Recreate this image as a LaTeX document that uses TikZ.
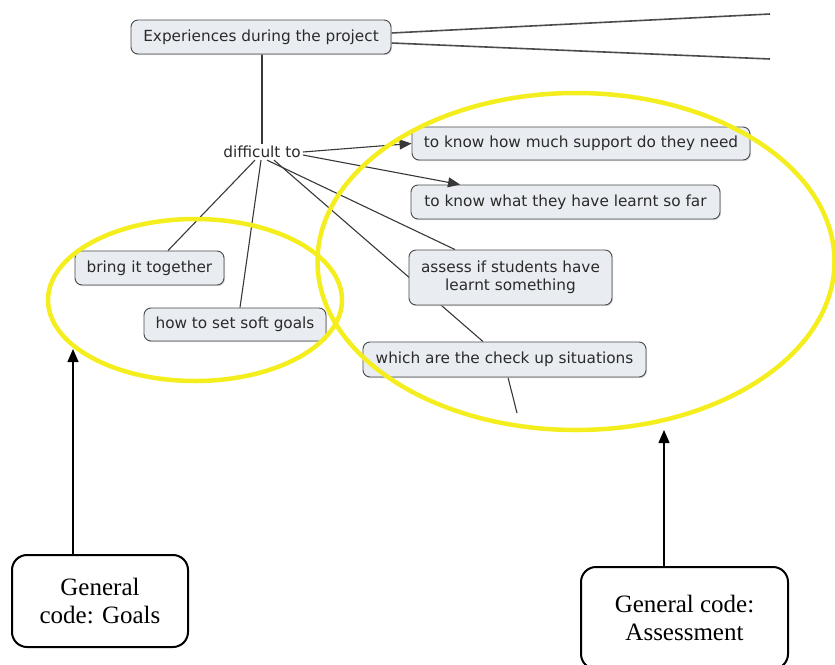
\documentclass[tikz,border=0pt]{standalone}
\usepackage{fontspec}
\setmainfont{Liberation Serif}
\newfontfamily\cmapfont{DejaVu Sans}
\usetikzlibrary{arrows.meta,backgrounds,shadows}
\definecolor{cmfill}{HTML}{E9EDF2}
\definecolor{cmborder}{HTML}{4A4A4A}
\definecolor{cmtext}{HTML}{2A2A2A}
\definecolor{cmline}{HTML}{383838}
\definecolor{hl}{HTML}{F5EE1E}
\begin{document}
\begin{tikzpicture}[x=1pt,y=-1pt,
  concept/.style={draw=cmborder, line width=0.9pt, fill=cmfill, rounded corners=7pt,
    text=cmtext, font=\cmapfont\fontsize{15.3}{18.5}\selectfont, inner sep=0pt, align=center,
    drop shadow={shadow xshift=1pt, shadow yshift=-1.2pt, fill=black!25, opacity=0.6}},
  linkword/.style={text=cmtext, font=\cmapfont\fontsize{15.3}{18.5}\selectfont, inner sep=2pt},
  link/.style={draw=cmline, line width=1.1pt},
  linkarrow/.style={link, -{Triangle[length=12pt,width=10pt]}},
  farlink/.style={draw=black!70, line width=1.6pt},
  codebox/.style={draw=black, line width=2pt, rounded corners=15pt,
    font=\fontsize{25}{28}\selectfont, align=center, inner sep=0pt},
  codearrow/.style={draw=black, line width=1.3pt, -{Triangle[length=13pt,width=11pt]}},
  hlring/.style={draw=hl, line width=4.5pt}
]
\useasboundingbox (0,0) rectangle (835,664);

% concept nodes
\node[concept, minimum width=260pt, minimum height=34pt] (exp) at (261,37) {Experiences during the project};
\node[linkword] (diff) at (262,152) {difficult to};
\node[concept, minimum width=338pt, minimum height=33pt] (need) at (581,143.5) {to know how much support do they need};
\node[concept, minimum width=309pt, minimum height=34pt] (sofar) at (565.5,202) {to know what they have learnt so far};
\node[concept, minimum width=149pt, minimum height=34pt] (bring) at (149.5,268) {bring it together};
\node[concept, minimum width=182pt, minimum height=33pt] (soft) at (235,324.5) {how to set soft goals};
\node[concept, minimum width=203pt, minimum height=55pt] (assess) at (510.5,277.5) {assess if students have\\learnt something};
\node[concept, minimum width=283pt, minimum height=35pt] (check) at (504.5,359.5) {which are the check up situations};

\coordinate (far1) at (770,14);
\coordinate (far2) at (770,59);
\coordinate (below) at (517,413);

% connectors behind the boxes
\begin{scope}[on background layer]
  \draw[farlink] ([yshift=4pt]exp.east) -- (far1);
  \draw[farlink] ([yshift=-6pt]exp.east) -- (far2);
  \draw[link] ([xshift=1pt]exp.south) -- (diff.north);
  \draw[link] ([xshift=-7pt]diff.south) -- ([xshift=18.5pt]bring.north);
  \draw[link] ([xshift=-1pt]diff.south) -- ([xshift=5pt]soft.north);
  \draw[link] ([xshift=5pt]diff.south) -- ([xshift=-55.5pt]assess.north);
  \draw[link] ([xshift=12pt]diff.south) -- ([xshift=-21.5pt]check.north);
  \draw[link] ([xshift=3.5pt]check.south) -- (below);
\end{scope}
\draw[linkarrow] (diff.east) -- (need.west);
\draw[linkarrow] ([yshift=-3pt]diff.east) -- ([xshift=-105.5pt]sofar.north);

% highlight rings
\draw[hlring] (195,300) ellipse [x radius=147pt, y radius=81pt];
\draw[hlring] (576,261.5) ellipse [x radius=258.5pt, y radius=168.5pt];

% general code boxes
\node[codebox, minimum width=176pt, minimum height=92pt] (goals) at (100,601) {General\\code: Goals};
\node[codebox, minimum width=207pt, minimum height=102pt] (asmt) at (684.5,618) {General code:\\Assessment};
\coordinate (goalsTip) at (73,349);
\coordinate (asmtTip) at (664,430);
\draw[codearrow] ([xshift=-27pt]goals.north) -- (goalsTip);
\draw[codearrow] ([xshift=-20.5pt]asmt.north) -- (asmtTip);
\end{tikzpicture}
\end{document}
